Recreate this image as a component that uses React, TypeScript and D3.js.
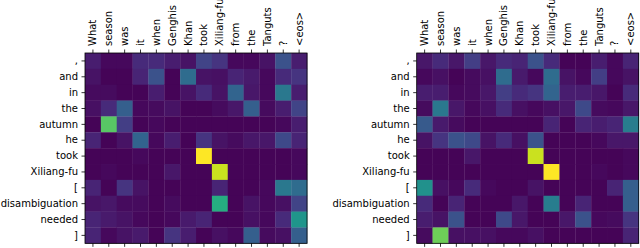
import * as React from 'react';
import * as d3 from 'd3';

// source tokens (columns) and generated tokens (rows)
const sourceTokens: string[] = ['What', 'season', 'was', 'it', 'when', 'Genghis', 'Khan', 'took', 'Xiliang-fu', 'from', 'the', 'Tanguts', '?', '<eos>'];
const targetTokens: string[] = [',', 'and', 'in', 'the', 'autumn', 'he', 'took', 'Xiliang-fu', '[', 'disambiguation', 'needed', ']'];

// attention weights
const leftWeights: number[][] = [
	[0.08, 0.02, 0.02, 0.12, 0.12, 0.08, 0.05, 0.2, 0.15, 0.02, 0.02, 0.05, 0.25, 0.08],
	[0.05, 0.01, 0.01, 0.1, 0.25, 0.01, 0.35, 0.05, 0.04, 0.1, 0.07, 0.02, 0.12, 0.15],
	[0.03, 0.03, 0.01, 0.01, 0.08, 0.01, 0.05, 0.12, 0.05, 0.32, 0.06, 0.02, 0.4, 0.08],
	[0.04, 0.12, 0.3, 0.02, 0.03, 0.05, 0.01, 0.01, 0.03, 0.06, 0.3, 0.03, 0.08, 0.2],
	[0.01, 0.74, 0.18, 0.01, 0.02, 0.01, 0.01, 0.01, 0.01, 0.01, 0.01, 0.01, 0.02, 0.08],
	[0.1, 0.01, 0.05, 0.32, 0.02, 0.08, 0.01, 0.15, 0.05, 0.03, 0.06, 0.06, 0.22, 0.1],
	[0.01, 0.01, 0.01, 0.02, 0.01, 0.01, 0.01, 1.0, 0.01, 0.01, 0.01, 0.01, 0.01, 0.02],
	[0.01, 0.02, 0.01, 0.01, 0.01, 0.06, 0.01, 0.01, 0.92, 0.01, 0.01, 0.01, 0.01, 0.02],
	[0.1, 0.01, 0.15, 0.05, 0.01, 0.01, 0.01, 0.01, 0.1, 0.01, 0.01, 0.02, 0.4, 0.35],
	[0.05, 0.06, 0.03, 0.03, 0.01, 0.03, 0.01, 0.01, 0.62, 0.01, 0.05, 0.02, 0.04, 0.2],
	[0.1, 0.07, 0.05, 0.02, 0.01, 0.02, 0.07, 0.1, 0.01, 0.01, 0.04, 0.02, 0.12, 0.52],
	[0.1, 0.02, 0.05, 0.07, 0.01, 0.15, 0.08, 0.01, 0.04, 0.02, 0.3, 0.03, 0.04, 0.3],
];

// attention weights
const rightWeights: number[][] = [
	[0.06, 0.12, 0.06, 0.18, 0.06, 0.12, 0.1, 0.25, 0.12, 0.01, 0.01, 0.08, 0.02, 0.1],
	[0.02, 0.04, 0.01, 0.03, 0.04, 0.35, 0.07, 0.02, 0.35, 0.05, 0.02, 0.18, 0.02, 0.05],
	[0.08, 0.08, 0.02, 0.03, 0.06, 0.18, 0.12, 0.15, 0.32, 0.08, 0.08, 0.06, 0.01, 0.12],
	[0.03, 0.4, 0.06, 0.02, 0.04, 0.12, 0.04, 0.02, 0.04, 0.06, 0.22, 0.03, 0.02, 0.06],
	[0.28, 0.07, 0.03, 0.01, 0.01, 0.01, 0.01, 0.01, 0.1, 0.01, 0.1, 0.08, 0.1, 0.42],
	[0.05, 0.15, 0.25, 0.22, 0.05, 0.12, 0.04, 0.25, 0.01, 0.01, 0.01, 0.02, 0.06, 0.06],
	[0.01, 0.01, 0.01, 0.06, 0.01, 0.01, 0.01, 0.92, 0.01, 0.01, 0.01, 0.01, 0.01, 0.02],
	[0.01, 0.01, 0.01, 0.01, 0.01, 0.01, 0.01, 0.01, 1.0, 0.01, 0.01, 0.02, 0.01, 0.02],
	[0.5, 0.04, 0.02, 0.12, 0.02, 0.01, 0.01, 0.05, 0.01, 0.01, 0.01, 0.01, 0.1, 0.3],
	[0.12, 0.01, 0.1, 0.01, 0.01, 0.01, 0.06, 0.01, 0.42, 0.01, 0.1, 0.01, 0.01, 0.3],
	[0.08, 0.05, 0.25, 0.01, 0.01, 0.22, 0.06, 0.01, 0.01, 0.06, 0.25, 0.02, 0.03, 0.15],
	[0.03, 0.78, 0.04, 0.04, 0.04, 0.02, 0.02, 0.04, 0.01, 0.01, 0.01, 0.01, 0.01, 0.1],
];

const cellSize = 15.86;
const mapTop = 53;

function drawHeatmap(svg: d3.Selection<any, any, any, any>, weights: number[][], left: number): void {
	const width = cellSize * sourceTokens.length;
	const height = cellSize * targetTokens.length;
	const x = d3.scaleBand<string>().domain(sourceTokens).range([0, width]);
	const y = d3.scaleBand<number>().domain(d3.range(targetTokens.length)).range([0, height]);
	const color = d3.scaleSequential(d3.interpolateViridis).domain([0, 1]);

	const g = svg.append('g').attr('transform', `translate(${left},${mapTop})`);

	// one rect per cell
	weights.forEach((row, r) => {
		g.selectAll(null)
			.data(row)
			.enter()
			.append('rect')
			.attr('x', (_d, c) => x(sourceTokens[c]) as number)
			.attr('y', y(r) as number)
			.attr('width', x.bandwidth() + 0.3)
			.attr('height', y.bandwidth() + 0.3)
			.attr('fill', (d) => color(d));
	});

	// axes: rotated labels on top, labels on the left, bare ticks at the bottom
	const top = g.append('g').call(d3.axisTop(x).tickSize(3.5).tickPadding(3.5));
	top.selectAll('text')
		.attr('transform', 'rotate(-90)')
		.attr('x', 7)
		.attr('y', 0)
		.attr('dy', '0.35em')
		.attr('text-anchor', 'start');

	const leftAxis = g.append('g').call(
		d3.axisLeft(y).tickSize(3.5).tickPadding(3.5).tickFormat((i: any) => targetTokens[i])
	);
	g.append('g')
		.attr('transform', `translate(0,${height})`)
		.call(d3.axisBottom(x).tickSize(3.5).tickFormat(() => ''));

	[top, leftAxis].forEach((a) =>
		a.attr('font-family', 'DejaVu Sans').attr('font-size', 10).selectAll('text').attr('fill', '#000')
	);
	g.selectAll('.domain').remove();
	g.selectAll('.tick line').attr('stroke', '#000').attr('stroke-width', 0.8);

	// frame
	g.append('rect')
		.attr('width', width)
		.attr('height', height)
		.attr('fill', 'none')
		.attr('stroke', '#000')
		.attr('stroke-width', 0.8);
}

export default function App() {
	const ref = React.useRef<SVGSVGElement>(null);

	React.useEffect(() => {
		const svg = d3.select(ref.current);
		svg.selectAll('*').remove();
		drawHeatmap(svg, leftWeights, 85);
		drawHeatmap(svg, rightWeights, 416.7);
	}, []);

	return (
		<svg
			ref={ref}
			width={640}
			height={248}
			style={{ position: 'absolute', left: 0, top: 0, fontFamily: 'DejaVu Sans', background: '#fff' }}
		/>
	);
}
